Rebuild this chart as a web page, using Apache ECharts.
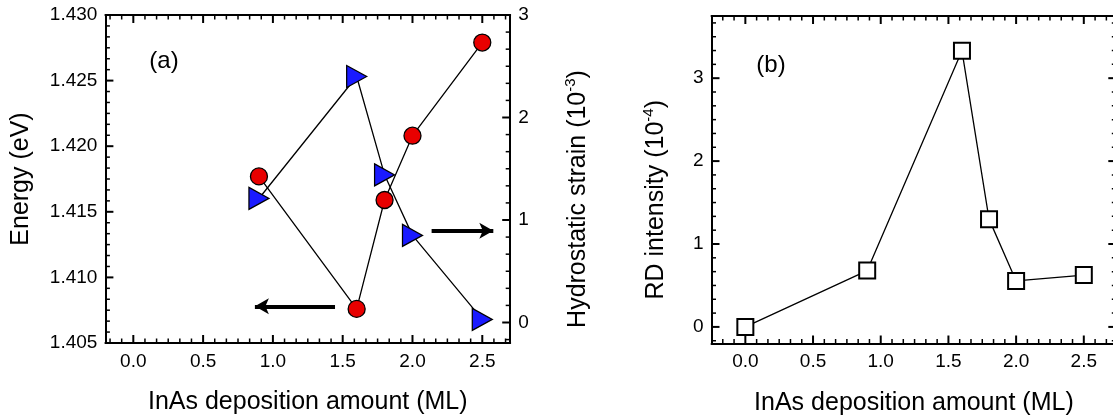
<!DOCTYPE html>
<html>
<head>
<meta charset="utf-8">
<script src="https://cdn.jsdelivr.net/npm/echarts@6/dist/echarts.min.js"></script>
<style>
  html, body { margin: 0; padding: 0; background: #fff; }
  #chart { width: 1113px; height: 418px; }
</style>
</head>
<body>
<div id="chart"></div>
<script>
// Panel (a): PL peak energy and hydrostatic strain vs. InAs deposition
const depositionA = [0.9, 1.6, 1.8, 2.0, 2.5];
const energyEV = [1.4177, 1.4076, 1.4159, 1.4208, 1.4279];
const strain = [1.21, 2.40, 1.44, 0.85, 0.03];

// Panel (b): RD intensity vs. InAs deposition
const depositionB = [0.0, 0.9, 1.6, 1.8, 2.0, 2.5];
const rdIntensity = [0.0, 0.68, 3.33, 1.30, 0.555, 0.625];

// Tick values
const xTicks = [0.0, 0.5, 1.0, 1.5, 2.0, 2.5];
const energyTicks = [1.405, 1.410, 1.415, 1.420, 1.425, 1.430];
const strainTicks = [0, 1, 2, 3];
const rdTicks = [0, 1, 2, 3];

// Arrows pointing each series to its axis (start, end in data units)
const arrowEnergy = [[1.445, 1.4078], [0.871, 1.4078]];
const arrowStrain = [[2.137, 0.896], [2.579, 0.896]];

const FONT = "'Liberation Sans', Arial, sans-serif";
const MINOR_DIV = 6;

function minorValues(majors, min, max) {
  const step = (majors[1] - majors[0]) / MINOR_DIV;
  const out = [];
  for (let k = -200; k <= 400; k++) {
    if (k % MINOR_DIV === 0) continue;
    const v = majors[0] + k * step;
    if (v > min + 1e-9 && v < max - 1e-9) out.push(+v.toFixed(6));
  }
  return out;
}

function axis(opts) {
  const o = {
    type: 'value',
    gridIndex: opts.grid,
    position: opts.position,
    min: opts.min,
    max: opts.max,
    splitLine: { show: false },
    axisLine: { show: true, onZero: false, lineStyle: { color: '#000', width: 2 } },
    axisTick: { show: false },
    axisLabel: { show: false },
    silent: true
  };
  if (opts.labels) {
    o.axisLabel = {
      show: true,
      customValues: opts.ticks,
      margin: opts.margin || 8,
      color: '#000',
      fontFamily: FONT,
      fontSize: 19,
      formatter: opts.fmt
    };
  }
  if (opts.name) {
    o.name = opts.name;
    o.nameLocation = 'middle';
    o.nameGap = opts.nameGap;
    if (opts.rotate !== undefined) o.nameRotate = opts.rotate;
    o.nameTextStyle = {
      color: '#000',
      fontFamily: FONT,
      fontSize: 25,
      padding: opts.namePad || 0,
      rich: {
        n: { fontFamily: FONT, fontSize: 25, lineHeight: 30, color: '#000' },
        s: { fontFamily: FONT, fontSize: 15, lineHeight: 16, verticalAlign: 'top', color: '#000' }
      }
    };
  }
  return o;
}

const fmt1 = v => v.toFixed(1);
const fmt3 = v => v.toFixed(3);
const fmt0 = v => String(Math.round(v));

const xA = { min: -0.2, max: 2.7 };
const xB = { min: -0.25, max: 2.74 };
const yE = { min: 1.405, max: 1.430 };
const yS = { min: -0.2, max: 3 };
const yR = { min: -0.2, max: 3.75 };

const boxA = { left: 105.4, top: 15, width: 404.8, height: 328 };
const boxB = { left: 711.5, top: 16, width: 404.8, height: 327.5 };

const xAxes = [
  axis({ grid: 0, position: 'bottom', ...xA, ticks: xTicks, labels: true, fmt: fmt1, margin: 9,
         name: 'InAs deposition amount (ML)', nameGap: 47 }),
  axis({ grid: 0, position: 'top', ...xA }),
  axis({ grid: 1, position: 'bottom', ...xB, ticks: xTicks, labels: true, fmt: fmt1, margin: 9,
         name: 'InAs deposition amount (ML)', nameGap: 47 }),
  axis({ grid: 1, position: 'top', ...xB })
];

const yAxes = [
  // panel (a): energy (left) and hydrostatic strain (right)
  axis({ grid: 0, position: 'left', ...yE, ticks: energyTicks, labels: true, fmt: fmt3,
         name: 'Energy (eV)', nameGap: 72, rotate: 90 }),
  axis({ grid: 0, position: 'right', ...yS, ticks: strainTicks, labels: true, fmt: fmt0,
         name: '{n|Hydrostatic strain (10}{s|-3}{n|)}', nameGap: 53, rotate: 90, namePad: [0, 40, 0, 0] }),
  // panel (b): RD intensity (left), mirrored frame (right)
  axis({ grid: 1, position: 'left', ...yR, ticks: rdTicks, labels: true, fmt: fmt0,
         name: '{n|RD intensity (10}{s|-4}{n|)}', nameGap: 40, rotate: 90, namePad: [0, 40, 0, 0] }),
  axis({ grid: 1, position: 'right', ...yR })
];

function pairs(xs, ys) { return xs.map((x, i) => [x, ys[i]]); }

function arrowLine(pts) {
  return {
    silent: true,
    symbol: ['none', 'arrow'],
    symbolSize: [12, 14],
    label: { show: false },
    emphasis: { disabled: true },
    lineStyle: { color: '#000', width: 4, type: 'solid' },
    data: [[{ coord: pts[0] }, { coord: pts[1] }]]
  };
}

// Inward tick marks on the frame, placed through the axis scales
function tickSeries(xIdx, yIdx, points, dir, len, width) {
  return {
    type: 'custom',
    xAxisIndex: xIdx,
    yAxisIndex: yIdx,
    silent: true,
    clip: false,
    z: 4,
    data: points,
    renderItem: (params, api) => {
      const p = api.coord([api.value(0), api.value(1)]);
      return {
        type: 'line',
        shape: { x1: p[0], y1: p[1], x2: p[0] + dir[0] * len, y2: p[1] + dir[1] * len },
        style: { stroke: '#000', lineWidth: width }
      };
    }
  };
}

// Frame ticks for one panel side: major (long) and minor (short)
function sideTicks(xIdx, yIdx, majors, minors, toPoint, dir) {
  return [
    tickSeries(xIdx, yIdx, majors.map(toPoint), dir, 8, 2),
    tickSeries(xIdx, yIdx, minors.map(toPoint), dir, 4.5, 1.5)
  ];
}

const minorXA = minorValues(xTicks, xA.min, xA.max);
const minorXB = minorValues(xTicks, xB.min, xB.max);
const minorE = minorValues(energyTicks, yE.min, yE.max);
const minorS = minorValues(strainTicks, yS.min, yS.max);
const minorR = minorValues(rdTicks, yR.min, yR.max);

const frameTicks = [].concat(
  sideTicks(0, 0, xTicks, minorXA, v => [v, yE.min], [0, -1]),
  sideTicks(0, 0, xTicks, minorXA, v => [v, yE.max], [0, 1]),
  sideTicks(0, 0, energyTicks, minorE, v => [xA.min, v], [1, 0]),
  sideTicks(0, 1, strainTicks, minorS, v => [xA.max, v], [-1, 0]),
  sideTicks(2, 2, xTicks, minorXB, v => [v, yR.min], [0, -1]),
  sideTicks(2, 2, xTicks, minorXB, v => [v, yR.max], [0, 1]),
  sideTicks(2, 2, rdTicks, minorR, v => [xB.min, v], [1, 0]),
  sideTicks(2, 2, rdTicks, minorR, v => [xB.max, v], [-1, 0])
);

const option = {
  animation: false,
  backgroundColor: '#fff',
  grid: [boxA, boxB].map(b => Object.assign({ outerBoundsMode: 'none', containLabel: false }, b)),
  xAxis: xAxes,
  yAxis: yAxes,
  graphic: [
    { type: 'text', x: 164, y: 61, silent: true,
      style: { text: '(a)', font: '24px ' + FONT, fill: '#000', align: 'center', verticalAlign: 'middle' } },
    { type: 'text', x: 771, y: 65, silent: true,
      style: { text: '(b)', font: '24px ' + FONT, fill: '#000', align: 'center', verticalAlign: 'middle' } }
  ],
  series: [
    {
      name: 'Energy',
      type: 'line',
      xAxisIndex: 0, yAxisIndex: 0,
      data: pairs(depositionA, energyEV),
      symbol: 'circle',
      symbolSize: 17,
      showAllSymbol: true,
      lineStyle: { color: '#000', width: 1.3 },
      itemStyle: { color: '#e80000', borderColor: '#000', borderWidth: 1.3 },
      z: 3,
      markLine: arrowLine(arrowEnergy)
    },
    {
      name: 'Hydrostatic strain',
      type: 'line',
      xAxisIndex: 0, yAxisIndex: 1,
      data: pairs(depositionA, strain),
      symbol: 'triangle',
      symbolRotate: -90,
      symbolSize: [22, 20],
      showAllSymbol: true,
      lineStyle: { color: '#000', width: 1.3 },
      itemStyle: { color: '#1a1aff', borderColor: '#000', borderWidth: 1.3 },
      z: 3,
      markLine: arrowLine(arrowStrain)
    },
    {
      name: 'RD intensity',
      type: 'line',
      xAxisIndex: 2, yAxisIndex: 2,
      data: pairs(depositionB, rdIntensity),
      symbol: 'rect',
      symbolSize: 16,
      showAllSymbol: true,
      lineStyle: { color: '#000', width: 1.3 },
      itemStyle: { color: '#fff', borderColor: '#000', borderWidth: 2 },
      z: 3
    }
  ].concat(frameTicks)
};

const chart = echarts.init(document.getElementById('chart'), null, { renderer: 'canvas' });
chart.setOption(option);
</script>
</body>
</html>
